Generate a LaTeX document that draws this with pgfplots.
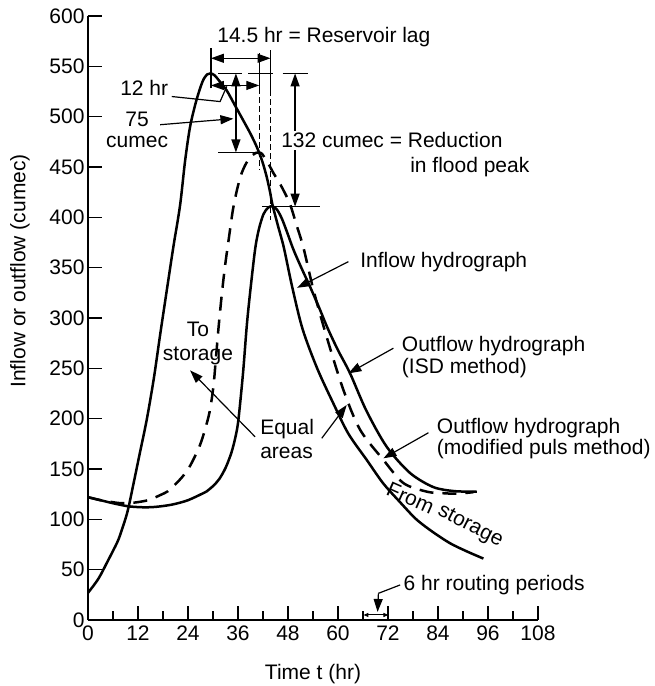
\documentclass[border=0pt]{standalone}
\usepackage{fontspec}
\setmainfont{Liberation Sans}
\usepackage{pgfplots}
\pgfplotsset{compat=1.18}
\usetikzlibrary{arrows.meta}
\begin{document}
\begin{tikzpicture}[font=\fontsize{21bp}{25bp}\selectfont,
  thin line/.style={line width=1.2bp},
  arr/.style={-{Triangle[length=13bp,width=9bp]}, line width=1.2bp},
  darr/.style={{Triangle[length=13bp,width=9bp]}-{Triangle[length=13bp,width=9bp]}, line width=1.2bp},
  sarr/.style={{Triangle[length=5bp,width=4bp]}-{Triangle[length=5bp,width=4bp]}, line width=1bp}]
\useasboundingbox (-88bp,-66bp) rectangle (567bp,620bp);
\begin{axis}[
  scale only axis, width=450bp, height=604bp,
  xmin=0, xmax=108, ymin=0, ymax=600,
  axis lines=left, axis line style={-, line width=1.5bp},
  xtick={0,12,...,108}, minor xtick={6,18,...,102},
  ytick={0,50,...,600},
  tick align=inside,
  major tick length=14bp, minor tick length=9bp,
  every tick/.style={line width=1.3bp, black},
  /pgf/number format/assume math mode=true,
  tick label style={font=\fontsize{21bp}{25bp}\selectfont},
  xticklabel style={yshift=-2bp},
  label style={font=\fontsize{21bp}{25bp}\selectfont},
  xlabel={Time t (hr)}, ylabel={Inflow or outflow (cumec)},
  xlabel style={at={(axis description cs:0.5,-0.09)}, anchor=center},
  ylabel style={at={(axis description cs:-0.151,0.578)}, anchor=center},
  clip=false,
]
% Inflow hydrograph
\addplot[black, line width=2.5bp, smooth, tension=0.5] coordinates {
(0,27) (2.5,41) (4.8,59) (7,77) (8,88) (9.5,108) (11,137) (12.4,165) (14.1,199)
(15.8,240) (17.3,283) (19,330) (20.5,371) (22.1,412) (23.3,456) (24.5,490) (26,516)
(27.5,535) (28.6,542) (29.4,543) (30.4,541) (31.8,534) (33.3,526) (35.3,511)
(37.3,496) (39,483) (40.5,470) (41.8,456) (42.9,440) (43.7,425) (44.3,412)
(45.7,390) (47,370) (49,331) (51.5,289) (55,250) (58.9,215) (62.5,185) (66.9,159)
(70.8,136) (74.9,117) (78.8,100) (82.9,87) (87,76) (91,68) (94.9,61)};
% Outflow ISD
\addplot[black, line width=2.5bp, smooth, tension=0.5] coordinates {
(0,122) (3,119) (6,116) (9.6,113) (13,112) (16,112.3) (20,114.5) (24,119) (28.4,127.5)};
\addplot[black, line width=2.5bp, smooth, tension=0.5] coordinates {
(28.4,127.5) (30,133) (31.5,140) (33,151) (34.4,166) (35.4,182) (36.1,199) (37.2,245)
(38.1,292) (38.9,325) (40.1,368) (41,388) (42.1,403) (43.2,409.5) (44.2,411) (45.3,408)
(46.5,399) (47.8,385) (49.3,368) (51.3,349) (53.3,331) (55.5,310) (57.5,290) (60,268)
(62.9,245) (66.8,208) (71.7,172) (77.3,146) (82.9,132) (88,128) (93.3,127.5)};
% Outflow modified puls
\addplot[black, line width=2.5bp, smooth, tension=0.5, dash pattern=on 14bp off 9bp] coordinates {
(0,122) (3,119) (6,117) (8,116) (10.9,116.5) (14.4,119) (17.3,124) (19.2,128) (21,135)
(22.6,142) (24.2,151) (25.6,162) (26.9,174) (28,188) (29.2,207) (30.1,232) (30.6,255)
(31.3,289) (32.1,323) (32.9,352) (34,385) (34.8,408) (35.8,428) (36.8,443) (38,454)
(39.3,461) (40.3,464) (41,464.5) (41.8,463) (42.7,457) (43.6,451) (44.5,444) (45.7,436)
(46.9,427) (48.5,413) (50,393) (51.7,370) (54.1,328) (57.3,281) (61.3,228.5) (65.3,189)
(70.9,159) (75.7,136) (81.3,127.5) (85,126) (88.5,125.5) (92.5,127)};

% ---- annotations ----
% vertical markers
\draw[thin line] (29.5,528) -- (29.5,568);
\draw[thin line] (43.8,566) -- (43.8,526);
\draw[thin line, dash pattern=on 6bp off 3bp] (43.8,526) -- (43.8,397);
\draw[thin line] (41.1,563) -- (41.1,528);
\draw[thin line, dash pattern=on 6bp off 3bp] (41.1,528) -- (41.1,447);
% horizontal level lines
\draw[thin line] (31.3,543) -- (36.9,543);
\draw[thin line] (38.5,543) -- (44.5,543);
\draw[thin line] (46.7,543) -- (52.9,543);
\draw[thin line] (31.3,464.5) -- (40.9,464.5);
\draw[thin line] (41.7,410.6) -- (55.7,410.6);
% double arrows
\draw[darr] (29.5,558) -- (43.8,558);
\draw[darr] (29.5,531) -- (41.1,531);
\draw[darr] (35.5,543) -- (35.5,464.5);
\draw[darr] (49.7,543) -- (49.7,410.6);
% texts
\node[anchor=base west, inner sep=0pt] at (31,574) {14.5 hr = Reservoir lag};
\node[anchor=base west, inner sep=0pt] at (7.7,521) {12 hr};
\draw[thin line] (20.1,520) -- (31.7,515) -- (33.3,530);
\node[anchor=base, inner sep=0pt] at (11.8,490) {75};
\node[anchor=base, inner sep=0pt] at (11.8,469) {cumec};
\draw[arr] (17.3,492) -- (34.9,498);
\node[anchor=base west, inner xsep=1pt, inner ysep=2pt, fill=white] at (46.1,469) {132 cumec = Reduction};
\node[anchor=base west, inner sep=0pt] at (77.3,445) {in flood peak};
\node[anchor=base west, inner sep=0pt] at (65.3,350) {Inflow hydrograph};
\draw[arr] (62.5,356) -- (50.2,330);
\node[anchor=base west, inner sep=0pt] at (75.3,266.5) {Outflow hydrograph};
\node[anchor=base west, inner sep=0pt] at (75.3,245) {(ISD method)};
\draw[arr] (73.3,270) -- (62.5,245);
\node[anchor=base west, inner sep=0pt] at (83.7,185.4) {Outflow hydrograph};
\node[anchor=base west, inner sep=0pt] at (83.7,164) {(modified puls method)};
\draw[arr] (81.7,186) -- (70.9,160.6);
\node[anchor=base west, inner sep=0pt] at (41.3,183.8) {Equal};
\node[anchor=base west, inner sep=0pt] at (41.3,160.6) {areas};
\draw[arr] (40.1,182) -- (24.5,248);
\draw[arr] (56.1,180.5) -- (62.1,213.6);
\node[anchor=base, inner sep=0pt] at (26.4,282) {To};
\node[anchor=base, inner sep=0pt] at (26.4,258) {storage};
\node[rotate=-24, inner sep=0pt] at (77.4,120.9) {From};
\node[rotate=-27, inner sep=0pt] at (91.7,92.7) {storage};
\node[anchor=base west, inner sep=0pt] at (75.7,29.8) {6 hr routing periods};
\draw[thin line] (74.9,34.8) -- (69.7,26.5);
\draw[arr] (69.7,26.5) -- (69.5,8);
\draw[sarr] (66.1,5) -- (72.1,5);
\end{axis}
\end{tikzpicture}
\end{document}
